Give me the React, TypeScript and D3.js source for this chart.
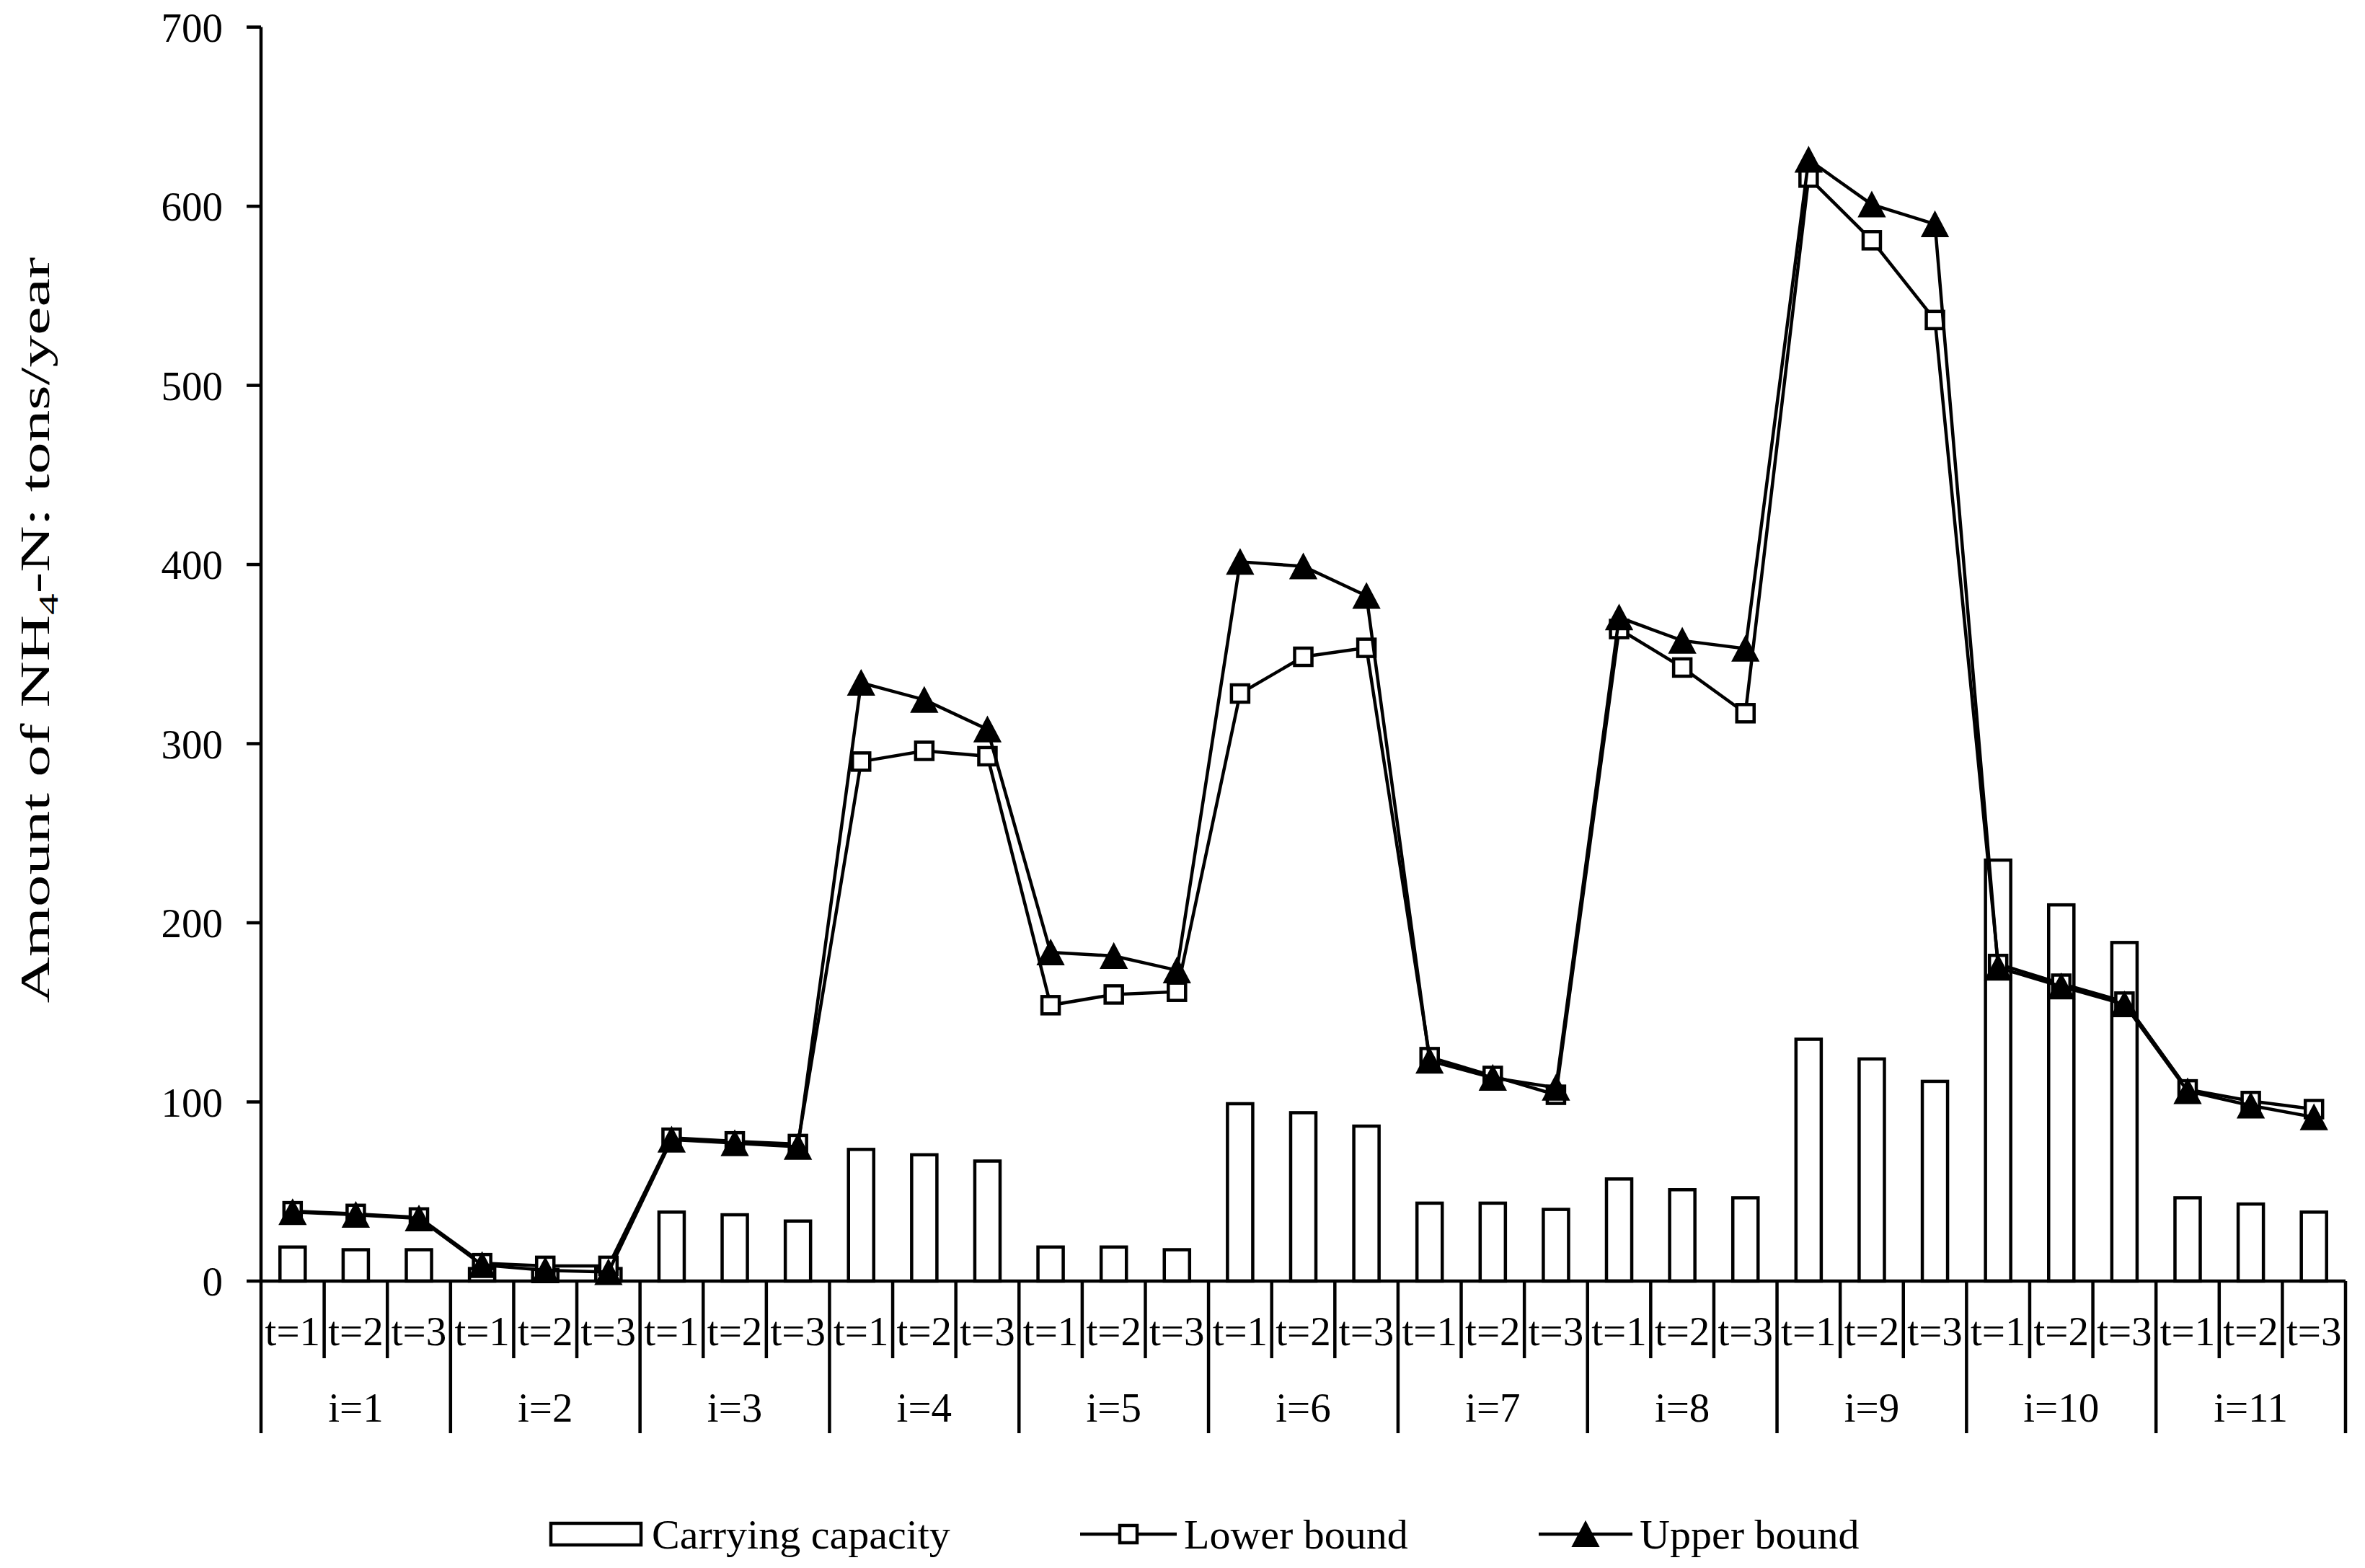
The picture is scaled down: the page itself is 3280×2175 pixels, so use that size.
import React from 'react';
import { scaleBand, scaleLinear, line } from 'd3';

// categories
const groups = ['i=1', 'i=2', 'i=3', 'i=4', 'i=5', 'i=6', 'i=7', 'i=8', 'i=9', 'i=10', 'i=11'];
const periods = ['t=1', 't=2', 't=3'];

// series values, one per (group, period)
const capacity = [19, 17.5, 17.5, 7, 6.5, 7, 38.5, 37, 33.5, 73.5, 70.5, 67, 19, 19, 17.5, 99, 94, 86.5,
  43.5, 43.5, 40, 57, 51, 46.5, 135, 124, 111.5, 235, 210, 189, 46.5, 43, 38.5];
const lowerBound = [39, 37.5, 35.5, 10, 8.5, 8.5, 80, 78, 76.5, 290, 296, 293, 154, 160, 161.5, 328, 348.5, 353.5,
  125, 114.5, 104, 364, 342.5, 317, 616, 581, 536.5, 177, 166, 156, 107, 100.5, 96];
const upperBound = [38.5, 37, 35, 9, 6, 5, 79, 77, 75, 334, 324.5, 308, 183.5, 181.5, 173.5, 401.5, 399, 382.5,
  123, 113.5, 108, 370.5, 357.5, 353, 626, 601, 590, 175, 164.5, 154.5, 106, 98, 91.5];

const yTicks = [0, 100, 200, 300, 400, 500, 600, 700];

const W = 3280;
const H = 2175;
const FONT = '"Liberation Serif", "Times New Roman", serif';

function App() {
  const left = 362, right = 3253, top = 37.6, bottom = 1777;
  const keys = groups.flatMap((g) => periods.map((p) => g + '|' + p));

  const x = scaleBand().domain(keys).range([left, right]).padding(0);
  const y = scaleLinear().domain([0, 700]).range([bottom, top]);
  const bw = x.bandwidth();
  const barW = bw * 0.4;
  const cx = (i) => x(keys[i]) + bw / 2;

  const lineGen = line()
    .x((d, i) => cx(i))
    .y((d) => y(d));

  const sq = 24;
  const tri = (px, py) => `M${px},${py - 17}L${px + 18},${py + 17}L${px - 18},${py + 17}Z`;

  const sw = 4.5;
  const tLabelY = 1866;
  const iLabelY = 1972;
  const legendY = 2128;

  return (
    <svg width={W} height={H} style={{ position: 'absolute', left: 0, top: 0, background: '#fff' }}
      fontFamily={FONT}>
      <rect x={0} y={0} width={W} height={H} fill="#fff" />

      {/* bars */}
      {capacity.map((v, i) => (
        <rect key={'b' + i} x={cx(i) - barW / 2} y={y(v)} width={barW} height={y(0) - y(v)}
          fill="#fff" stroke="#000" strokeWidth={sw} />
      ))}

      {/* lower bound */}
      <path d={lineGen(lowerBound)} fill="none" stroke="#000" strokeWidth={sw} />
      {lowerBound.map((v, i) => (
        <rect key={'l' + i} x={cx(i) - sq / 2} y={y(v) - sq / 2} width={sq} height={sq}
          fill="#fff" stroke="#000" strokeWidth={sw} />
      ))}

      {/* upper bound */}
      <path d={lineGen(upperBound)} fill="none" stroke="#000" strokeWidth={sw} />
      {upperBound.map((v, i) => (
        <path key={'u' + i} d={tri(cx(i), y(v))} fill="#000" stroke="#000" strokeWidth={2} />
      ))}

      {/* y axis */}
      <line x1={left} x2={left} y1={top} y2={1988} stroke="#000" strokeWidth={sw} />
      {yTicks.map((t) => (
        <g key={'yt' + t}>
          <line x1={left - 20} x2={left} y1={y(t)} y2={y(t)} stroke="#000" strokeWidth={sw} />
          <text x={309} y={y(t) + 20} textAnchor="end" fontSize={57}>{t}</text>
        </g>
      ))}

      {/* x axis */}
      <line x1={left} x2={right} y1={bottom} y2={bottom} stroke="#000" strokeWidth={sw} />
      {keys.map((k, i) => {
        const x0 = x(k);
        const x1 = x0 + bw;
        const endOfGroup = i % 3 === 2;
        return (
          <g key={'xt' + i}>
            <line x1={x1} x2={x1} y1={bottom} y2={endOfGroup ? 1988 : 1884} stroke="#000" strokeWidth={sw} />
            <text x={x0 + bw / 2} y={tLabelY} textAnchor="middle" fontSize={57}>{periods[i % 3]}</text>
          </g>
        );
      })}
      {groups.map((g, gi) => (
        <text key={'g' + g} x={x(keys[gi * 3]) + bw * 1.5} y={iLabelY} textAnchor="middle" fontSize={57}>{g}</text>
      ))}

      {/* y title (stretched along its length as in the original) */}
      <text transform="translate(68, 874) rotate(-90)" textAnchor="middle" fontSize={57}
        textLength={1035} lengthAdjust="spacingAndGlyphs">
        Amount of NH<tspan fontSize={38} dy={12}>4</tspan><tspan dy={-12}>-N: tons/year</tspan>
      </text>

      {/* legend */}
      <rect x={764} y={legendY - 15} width={125} height={30} fill="#fff" stroke="#000" strokeWidth={sw} />
      <text x={904} y={legendY + 20} fontSize={58}>Carrying capacity</text>

      <line x1={1498} x2={1632} y1={legendY} y2={legendY} stroke="#000" strokeWidth={sw} />
      <rect x={1565 - sq / 2} y={legendY - sq / 2} width={sq} height={sq} fill="#fff" stroke="#000" strokeWidth={sw} />
      <text x={1642} y={legendY + 20} fontSize={58}>Lower bound</text>

      <line x1={2134} x2={2264} y1={legendY} y2={legendY} stroke="#000" strokeWidth={sw} />
      <path d={tri(2199, legendY)} fill="#000" stroke="#000" strokeWidth={2} />
      <text x={2274} y={legendY + 20} fontSize={58}>Upper bound</text>
    </svg>
  );
}

export default App;
